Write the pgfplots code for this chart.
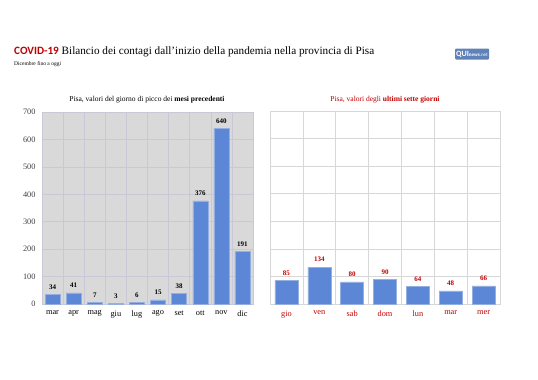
\documentclass[border=0pt]{standalone}
\usepackage{fontspec}
\setmainfont{Liberation Serif}
\newfontfamily\carlito{Carlito}
\usepackage{pgfplots}
\pgfplotsset{compat=1.18}
\definecolor{barblue}{RGB}{92,134,214}
\definecolor{baredge}{RGB}{150,175,225}
\definecolor{bgrey}{RGB}{217,217,217}
\definecolor{gridl}{RGB}{200,200,215}
\definecolor{gridr}{RGB}{215,215,215}
\definecolor{dred}{RGB}{192,0,0}
\definecolor{logob}{RGB}{95,130,185}
\begin{document}
\begin{tikzpicture}
\useasboundingbox (0,0) rectangle (538pt,-380pt);
\node[anchor=base west, inner sep=0pt, font=\fontsize{11.2}{13}\selectfont] at (14pt,-54pt) {{\carlito\bfseries\color{dred}COVID-19} Bilancio dei contagi dall'inizio della pandemia nella provincia di Pisa};
\node[anchor=base west, inner sep=0pt, font=\fontsize{5.5}{6}\selectfont] at (14pt,-65pt) {Dicembre fino a oggi};
\node[anchor=center, fill=logob, rounded corners=1pt, inner sep=1pt, minimum width=34pt, minimum height=11pt, text=white, font=\carlito\fontsize{8}{9}\selectfont] at (472pt,-54pt) {\textbf{QUI}{\fontsize{5}{6}\selectfont\textbf{news}.net}};
\node[anchor=base, font=\fontsize{7.5}{9}\selectfont] at (147pt,-101pt) {Pisa, valori del giorno di picco dei \textbf{mesi precedenti}};
\node[anchor=base, font=\fontsize{7.5}{9}\selectfont, text=dred] at (385pt,-101pt) {Pisa, valori degli \textbf{ultimi sette giorni}};
\begin{axis}[
  at={(42pt,-304pt)}, anchor=south west,
  scale only axis, width=211pt, height=192pt,
  ymin=0, ymax=700, ytick={0,100,...,700},
  xmin=-0.5, xmax=9.5,
  xtick={0,...,9},
  xticklabels={mar,apr,mag,giu,lug,ago,set,ott,nov,dic},
  minor xtick={0.5,1.5,...,8.5},
  xminorgrids, ymajorgrids,
  major tick length=0pt, minor tick length=0pt,
  grid style={gridl, line width=0.5pt},
  minor grid style={gridl, line width=0.5pt},
  axis background/.style={fill=bgrey},
  axis line style={gridl},
  ticklabel style={font=\fontsize{8.3}{10}\selectfont},
  xticklabel style={yshift=-3pt},
  yticklabel style={text=black!75, xshift=-3pt},
  /pgf/number format/assume math mode=true,
  ybar, bar width=15pt,
  nodes near coords,
  every node near coord/.append style={font=\fontsize{7}{8}\selectfont\bfseries, text=black, yshift=1.5pt},
  clip=false,
]
\addplot[fill=barblue, draw=baredge] coordinates {(0,34) (1,41) (2,7) (3,3) (4,6) (5,15) (6,38) (7,376) (8,640) (9,191)};
\end{axis}
\begin{axis}[
  at={(270pt,-304pt)}, anchor=south west,
  scale only axis, width=230pt, height=193pt,
  ymin=0, ymax=700, ytick={0,100,...,700},
  yticklabels={},
  xmin=-0.5, xmax=6.5,
  xtick={0,...,6},
  xticklabels={gio,ven,sab,dom,lun,mar,mer},
  minor xtick={0.5,1.5,...,5.5},
  xminorgrids, ymajorgrids,
  major tick length=0pt, minor tick length=0pt,
  grid style={gridr, line width=0.5pt},
  minor grid style={gridr, line width=0.5pt},
  axis line style={gridr},
  xticklabel style={font=\fontsize{8.3}{10}\selectfont, text=dred, yshift=-3pt},
  /pgf/number format/assume math mode=true,
  ybar, bar width=23pt,
  nodes near coords,
  every node near coord/.append style={font=\fontsize{7}{8}\selectfont\bfseries, text=dred, yshift=1.5pt},
  clip=false,
]
\addplot[fill=barblue, draw=baredge] coordinates {(0,85) (1,134) (2,80) (3,90) (4,64) (5,48) (6,66)};
\end{axis}
\end{tikzpicture}
\end{document}
